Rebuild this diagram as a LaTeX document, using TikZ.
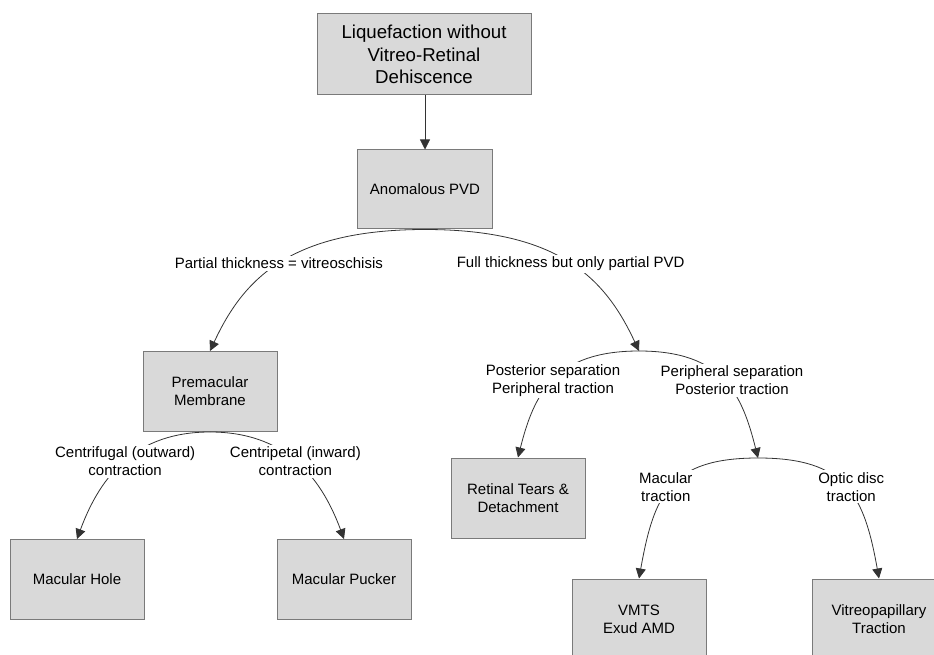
\documentclass[tikz,border=0pt]{standalone}
\usepackage{fontspec}
\setmainfont{Liberation Sans}
\usetikzlibrary{arrows.meta}

\definecolor{boxgray}{HTML}{D9D9D9}
\definecolor{edgegray}{HTML}{7A7A7A}

\tikzset{
  box/.style={draw=edgegray, fill=boxgray, line width=0.75pt, align=center,
    minimum width=100.5pt, minimum height=60pt, inner sep=2pt,
    font=\fontsize{11.25}{13.5}\selectfont},
  topbox/.style={box, minimum width=160.5pt, minimum height=60.75pt,
    font=\fontsize{14}{16.9}\selectfont},
  lbl/.style={fill=white, align=center, inner sep=1.5pt,
    font=\fontsize{11.25}{13.5}\selectfont},
  link/.style={draw=black!80, line width=0.6pt,
    -{Triangle[length=7.5pt,width=7.5pt]}}
}

\begin{document}
\begin{tikzpicture}[x=0.75pt,y=0.75pt]

\clip (0,0) rectangle (934,-655);

% boxes
\node[topbox] (liq) at (424,-54.5) {Liquefaction without\\Vitreo-Retinal\\Dehiscence};
\node[box, minimum width=101.25pt, minimum height=59.25pt] (pvd) at (425,-189.5) {Anomalous PVD};
\node[box] (pmm) at (210,-391.5) {Premacular\\Membrane};
\node[box] (hole) at (77,-579.5) {Macular Hole};
\node[box] (pucker) at (344,-579.5) {Macular Pucker};
\node[box] (tears) at (518,-498) {Retinal Tears \&\\Detachment};
\node[box] (vmts) at (639,-619) {VMTS\\Exud AMD};
\node[box] (vp) at (879,-619) {Vitreopapillary\\Traction};

% split points
\coordinate (j1) at (639,-351);
\coordinate (j2) at (758,-458);

% connectors
\draw[link] (pvd.north |- liq.south) -- (pvd.north);

\draw[link] (pvd.south) .. controls +(-136,0) and +(33,71) .. node[lbl, pos=0.5] {Partial thickness = vitreoschisis} (pmm.north);
\draw[link] (pvd.south) .. controls +(136,0) and +(-33,71) .. node[lbl, pos=0.5] {Full thickness but only partial PVD} (j1);

\draw[link] (pmm.south) .. controls +(-73,0) and +(24,65) .. node[lbl, pos=0.5] {Centrifugal (outward)\\contraction} (hole.north);
\draw[link] (pmm.south) .. controls +(73,0) and +(-24,65) .. node[lbl, pos=0.5] {Centripetal (inward)\\contraction} (pucker.north);

\draw[link] (j1) .. controls +(-84,0) and +(16,64) .. node[lbl, pos=0.5] {Posterior separation\\Peripheral traction} (tears.north);
\draw[link] (j1) .. controls +(84,0) and +(-16,64) .. node[lbl, pos=0.5, xshift=6pt] {Peripheral separation\\Posterior traction} (j2);

\draw[link] (j2) .. controls +(-88,0) and +(15,84) .. node[lbl, pos=0.5, xshift=-4pt] {Macular\\traction} (vmts.north);
\draw[link] (j2) .. controls +(88,0) and +(-15,84) .. node[lbl, pos=0.5, xshift=4pt] {Optic disc\\traction} (vp.north);

\end{tikzpicture}
\end{document}
